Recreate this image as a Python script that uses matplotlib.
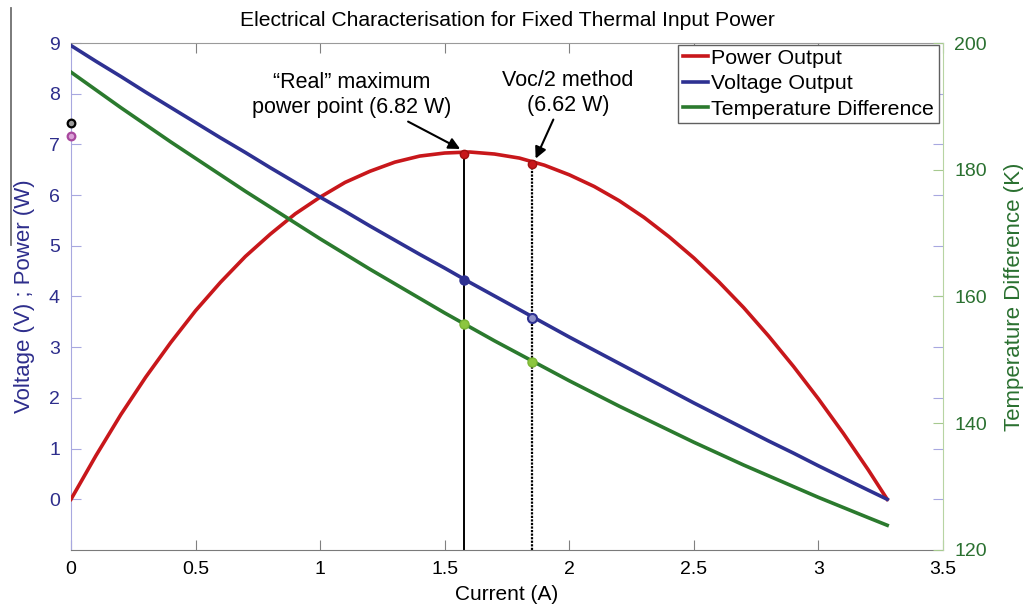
import matplotlib.pyplot as plt
from matplotlib.lines import Line2D

plt.rcParams['font.family'] = ['Liberation Sans', 'DejaVu Sans']

# readings (current in A)
current = [0.0, 0.1, 0.2, 0.3, 0.4, 0.5, 0.6, 0.7, 0.8, 0.9,
           1.0, 1.1, 1.2, 1.3, 1.4, 1.5, 1.6, 1.7, 1.8, 1.9,
           2.0, 2.1, 2.2, 2.3, 2.4, 2.5, 2.6, 2.7, 2.8, 2.9,
           3.0, 3.1, 3.2, 3.276]
voltage = [8.95, 8.64, 8.34, 8.03, 7.73, 7.43, 7.13, 6.84, 6.54, 6.25,
           5.96, 5.68, 5.39, 5.11, 4.83, 4.56, 4.28, 4.01, 3.74, 3.47,
           3.20, 2.94, 2.68, 2.42, 2.16, 1.90, 1.65, 1.40, 1.15, 0.91,
           0.66, 0.42, 0.18, 0.0]
power = [0.0, 0.86, 1.67, 2.41, 3.09, 3.72, 4.28, 4.79, 5.23, 5.63,
         5.96, 6.25, 6.47, 6.65, 6.77, 6.83, 6.85, 6.81, 6.73, 6.59,
         6.40, 6.17, 5.89, 5.56, 5.18, 4.76, 4.29, 3.78, 3.22, 2.62,
         1.98, 1.30, 0.58, 0.0]
temp_diff = [195.4, 192.6, 189.8, 187.1, 184.4, 181.8, 179.2, 176.6, 174.1, 171.6,
             169.1, 166.7, 164.3, 162.0, 159.7, 157.4, 155.2, 153.0, 150.9, 148.8,
             146.7, 144.7, 142.7, 140.8, 138.9, 137.0, 135.2, 133.4, 131.7, 130.0,
             128.3, 126.7, 125.1, 123.9]

# operating points: real MPP and Voc/2 method
mpp_current = [1.578, 1.85]
mpp_power = [6.82, 6.62]
mpp_voltage = [4.32, 3.58]
mpp_temp = [155.7, 149.7]

# stray markers at zero current
zero_pts = [7.43, 7.17]

red = '#c8171b'
blue = '#2e3192'
green = '#2b7a2e'
blue_txt = '#2e2e8c'
green_txt = '#2a7030'
lw = 2.6

fig = plt.figure(figsize=(10.23, 6.10), dpi=100)
ax = fig.add_axes([0.0694, 0.0984, 0.8524, 0.8311])
ax2 = ax.twinx()

ax.plot(current, power, color=red, lw=lw, zorder=3)
ax.plot(current, voltage, color=blue, lw=lw, zorder=3)
ax2.plot(current, temp_diff, color=green, lw=lw, zorder=3)

# vertical markers down to the axis
ax.plot([mpp_current[0]] * 2, [-1, mpp_power[0]], color='black', lw=1.4, zorder=2)
ax.plot([mpp_current[1]] * 2, [-1, mpp_power[1]], color='black', lw=1.6,
        linestyle=(0, (1, 0.6)), zorder=2)

ax.plot(mpp_current, mpp_power, 'o', ms=6, mfc=red, mec='#a01010', zorder=4)
ax.plot(mpp_current[0], mpp_voltage[0], 'o', ms=6.5, mfc=blue, mec=blue, zorder=4)
ax.plot(mpp_current[1], mpp_voltage[1], 'o', ms=6.5, mfc='#8f91c8', mec=blue, mew=1.5, zorder=4)
ax2.plot(mpp_current, mpp_temp, 'o', ms=6.5, mfc='#8cc63f', mec='#7ab534', zorder=4)

ax.plot(0, zero_pts[0], 'o', ms=5.5, mfc='#9a9a9a', mec='black', mew=1.6, clip_on=False, zorder=5)
ax.plot(0, zero_pts[1], 'o', ms=5.5, mfc='#d9a0d6', mec='#a8489e', mew=1.6, clip_on=False, zorder=5)

ax.text(1.128, 7.97, '\u201cReal\u201d maximum\npower point (6.82 W)', ha='center', va='center',
        fontsize=15.5, linespacing=1.25)
ax.text(1.994, 8.02, 'Voc/2 method\n(6.62 W)', ha='center', va='center',
        fontsize=15.5, linespacing=1.25)
arrow = dict(arrowstyle='-|>', color='black', lw=1.5, mutation_scale=17, shrinkA=0, shrinkB=0)
ax.annotate('', xy=(1.562, 6.91), xytext=(1.353, 7.45), arrowprops=arrow)
ax.annotate('', xy=(1.865, 6.72), xytext=(1.936, 7.49), arrowprops=arrow)

ax.set_xlim(0, 3.5)
ax.set_ylim(-1, 9)
ax2.set_ylim(120, 200)
ax.set_xticks([0, 0.5, 1, 1.5, 2, 2.5, 3, 3.5])
ax.set_xticklabels(['0', '0.5', '1', '1.5', '2', '2.5', '3', '3.5'])
ax.set_yticks(range(0, 10))
ax2.set_yticks([120, 140, 160, 180, 200])

ax.yaxis.set_ticks_position('both')
ax.tick_params(axis='x', direction='in', top=True, length=7, color='#808080',
               labelsize=14, pad=8)
ax.tick_params(axis='y', direction='in', length=7, color='#a8a8e0',
               labelcolor=blue_txt, labelsize=14, pad=8)
ax2.tick_params(axis='y', direction='in', length=7, color='#a6c98f',
                labelcolor=green_txt, labelsize=14, pad=8)

ax.spines['left'].set_color('#a8a8e0')
ax.spines['bottom'].set_color('#7a7a7a')
ax.spines['top'].set_color('#9a9a9a')
ax.spines['right'].set_visible(False)
ax2.spines['right'].set_color('#b7d4a3')
ax2.spines['left'].set_visible(False)
ax2.spines['top'].set_visible(False)
ax2.spines['bottom'].set_visible(False)

ax.set_xlabel('Current (A)', fontsize=15, labelpad=5)
ax.set_ylabel('Voltage (V) ; Power (W)', fontsize=16, color=blue_txt, labelpad=10)
ax2.set_ylabel('Temperature Difference (K)', fontsize=16, color=green_txt, labelpad=12)
ax.set_title('Electrical Characterisation for Fixed Thermal Input Power', fontsize=15.2, pad=12)

handles = [Line2D([], [], color=red, lw=lw), Line2D([], [], color=blue, lw=lw),
           Line2D([], [], color=green, lw=lw)]
leg = ax2.legend(handles, ['Power Output', 'Voltage Output', 'Temperature Difference'],
                 loc='upper right', bbox_to_anchor=(0.995, 0.997), fontsize=15.4,
                 handlelength=1.2, handletextpad=0.15, borderpad=0.2, labelspacing=0.3,
                 borderaxespad=0.0, fancybox=False, framealpha=1)
leg.get_frame().set_edgecolor('#606060')
leg.get_frame().set_linewidth(1.0)

# stray border line at the far left of the original image
fig.add_artist(Line2D([0.0108, 0.0108], [1 - 8 / 610, 1 - 245 / 610], color='#707070', lw=1.3))

fig.savefig('out.png', dpi=100)
